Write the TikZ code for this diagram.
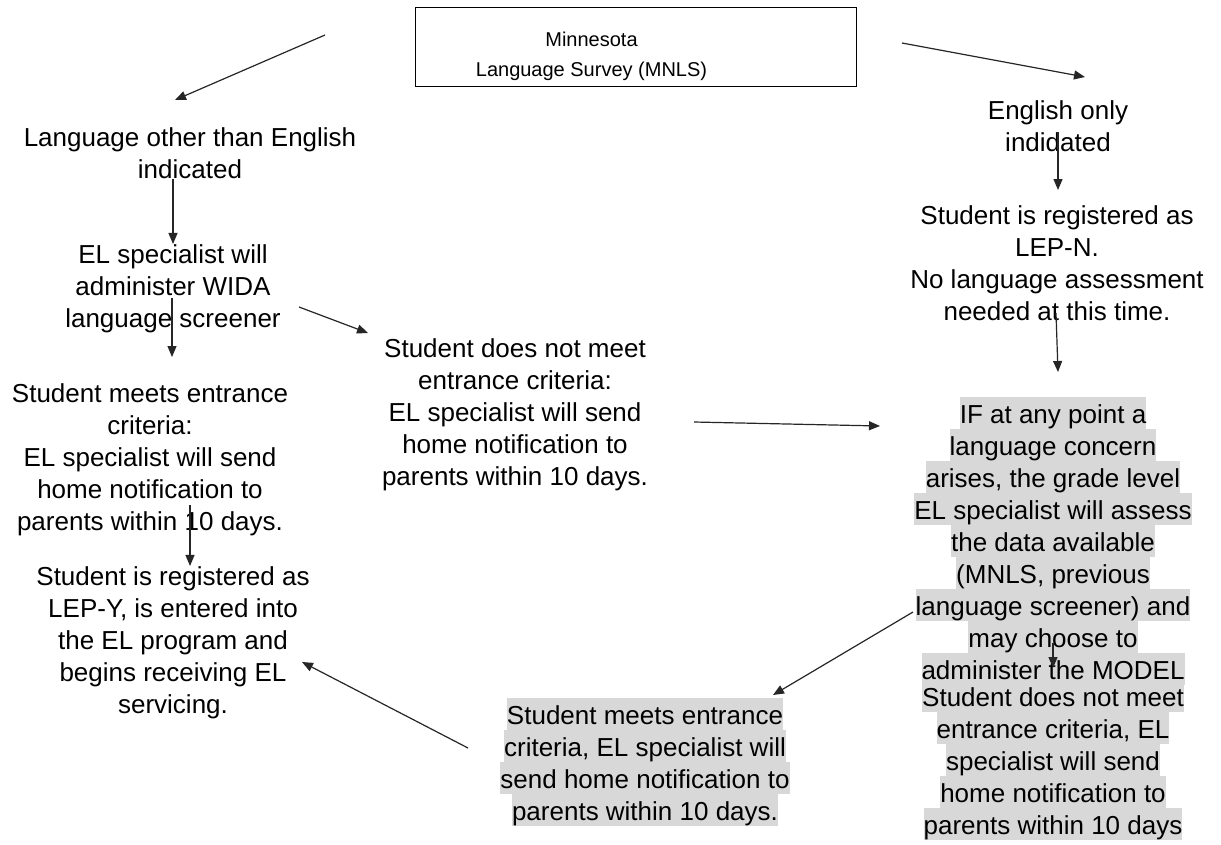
\documentclass[tikz,border=0pt]{standalone}
\usepackage{fontspec}
\setmainfont{Liberation Sans}
\usetikzlibrary{arrows.meta}

\definecolor{hlgray}{HTML}{D8D8D8}
\setlength{\fboxsep}{0pt}
% one highlighted line of text, bands touching each other
\newcommand{\hlline}[1]{\colorbox{hlgray}{\rule[-6pt]{0pt}{32pt}#1}}

\tikzset{
  every node/.style={inner sep=0pt},
  txt/.style={align=center, font=\fontsize{26}{32}\selectfont},
  surveybox/.style={draw, line width=1pt, font=\fontsize{20}{30}\selectfont,
                    inner xsep=60pt, inner ysep=9.5pt},
  flow/.style={-{Triangle[length=11pt,width=9pt]}, line width=1.2pt, draw=black!85}
}

\begin{document}
\begin{tikzpicture}[x=1pt,y=-1pt]
  \useasboundingbox (0,0) rectangle (1221,844);
  \fill[white] (0,0) rectangle (1221,844);

  % survey at the top
  \node[surveybox] (survey) at (636,46.5)
       {\raisebox{-9pt}[\height][\depth]{\begin{tabular}{@{}c@{}}Minnesota\\Language Survey (MNLS)\end{tabular}}\kern89pt};

  % left branch
  \node[txt] (other)    at (190,153) {Language other than English\\indicated};
  \node[txt] (screener) at (173,288.3) {EL specialist will\\administer WIDA\\language screener};
  \node[txt] (meets)    at (150,459.3) {Student meets entrance\\criteria:\\EL specialist will send\\home notification to\\parents within 10 days.};
  \node[txt] (lepy)     at (173,642.3) {Student is registered as\\LEP-Y, is entered into\\the EL program and\\begins receiving EL\\servicing.};
  \node[txt] (notmeet)  at (515,414.5) {Student does not meet\\entrance criteria:\\EL specialist will send\\home notification to\\parents within 10 days.};

  % right branch
  \node[txt] (engonly)  at (1058,126.5) {English only\\indidated};
  \node[txt] (lepn)     at (1057,263.5) {Student is registered as\\LEP-N.\\No language assessment\\needed at this time.};
  \node[txt] (concern)  at (1053,541) {\hlline{IF at any point a}\\\hlline{language concern}\\\hlline{arises, the grade level}\\\hlline{EL specialist will assess}\\\hlline{the data available}\\\hlline{(MNLS, previous}\\\hlline{language screener) and}\\\hlline{may choose to}\\\hlline{administer the MODEL}};
  \node[txt] (notmeetb) at (1053,760) {\hlline{Student does not meet}\\\hlline{entrance criteria, EL}\\\hlline{specialist will send}\\\hlline{home notification to}\\\hlline{parents within 10 days}};
  \node[txt] (meetsb)   at (645,762) {\hlline{Student meets entrance}\\\hlline{criteria, EL specialist will}\\\hlline{send home notification to}\\\hlline{parents within 10 days.}};

  % loose arrow ends
  \coordinate (sv-left)   at (325,35);
  \coordinate (ot-top)    at (175,100);
  \coordinate (sv-right)  at (902,43);
  \coordinate (eo-top)    at (1085,77);
  \coordinate (sc-out)    at (172,298);
  \coordinate (me-top)    at (172,357);
  \coordinate (sc-side)   at (299,307);
  \coordinate (nm-top)    at (368,333);
  \coordinate (me-out)    at (190,505);
  \coordinate (nm-side)   at (694,422);
  \coordinate (co-left)   at (880,426);
  \coordinate (eo-out)    at (1058,132);
  \coordinate (ln-top)    at (1058,190);
  \coordinate (ln-out)    at (1056,313);
  \coordinate (co-top)    at (1058,372);
  \coordinate (co-side)   at (913,612);
  \coordinate (mb-top)    at (773,695);
  \coordinate (co-mid)    at (1053,643);
  \coordinate (nb-top)    at (1053,668);
  \coordinate (mb-side)   at (468,748);
  \coordinate (ly-side)   at (302,662);

  \draw[flow] (sv-left) -- (ot-top);
  \draw[flow] (sv-right) -- (eo-top);
  \draw[flow] (screener.north |- other.south) -- (screener.north);
  \draw[flow] (sc-out) -- (me-top);
  \draw[flow] (sc-side) -- (nm-top);
  \draw[flow] (me-out) -- (me-out |- lepy.north);
  \draw[flow] (nm-side) -- (co-left);
  \draw[flow] (eo-out) -- (ln-top);
  \draw[flow] (ln-out) -- (co-top);
  \draw[flow] (co-side) -- (mb-top);
  \draw[flow] (co-mid) -- (nb-top);
  \draw[flow] (mb-side) -- (ly-side);
\end{tikzpicture}
\end{document}
